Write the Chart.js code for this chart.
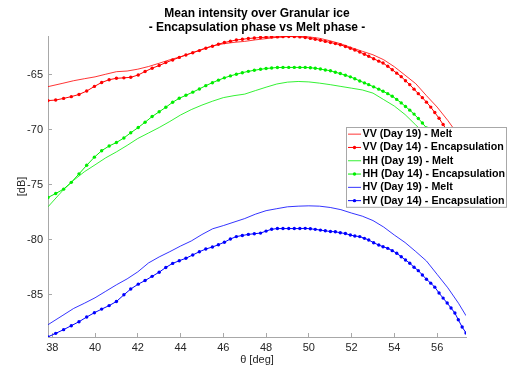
<!DOCTYPE html>
<html>
<head>
<meta charset="utf-8">
<script src="https://cdn.jsdelivr.net/npm/chart.js@4/dist/chart.umd.min.js"></script>
<style>
  html, body { margin: 0; padding: 0; background: #fff; }
  canvas { display: block; }
</style>
</head>
<body>
<canvas id="chart" width="511" height="367"></canvas>
<script>
// Incidence angles (deg) of the encapsulation samples (dotted curves)
const thetaEnc = [
  37.80, 38.16, 38.53, 38.89, 39.25, 39.61, 39.97, 40.31, 40.66, 41.00,
  41.35, 41.67, 42.02, 42.34, 42.67, 43.00, 43.31, 43.63, 43.94, 44.25,
  44.57, 44.88, 45.18, 45.49, 45.77, 46.05, 46.33, 46.61, 46.89, 47.17,
  47.45, 47.74, 48.00, 48.26, 48.53, 48.79, 49.06, 49.32, 49.58, 49.83,
  50.07, 50.30, 50.54, 50.77, 51.01, 51.24, 51.47, 51.71, 51.94, 52.15,
  52.38, 52.60, 52.80, 53.03, 53.27, 53.47, 53.69, 53.90, 54.11, 54.32,
  54.52, 54.72, 54.92, 55.12, 55.31, 55.50, 55.70, 55.89, 56.09, 56.28,
  56.47, 56.65, 56.83, 56.99, 57.17, 57.35
];

// Incidence angles (deg) (plain lines)
const thetaMelt = [
  37.8, 38.5, 39, 39.5, 40, 40.5, 41, 41.5, 42, 42.5,
  43, 43.5, 44, 44.5, 45, 45.5, 46, 46.5, 47, 47.5,
  48, 48.5, 49, 49.5, 50, 50.5, 51, 51.5, 52, 52.5,
  53, 53.5, 54, 54.5, 55, 55.5, 56, 56.5, 57, 57.35
];

// Mean intensity [dB]
const vvMelt = [
  -66.06, -65.75, -65.52, -65.34, -65.17, -64.93, -64.70, -64.64, -64.47, -64.23,
  -63.93, -63.61, -63.34, -63.01, -62.66, -62.34, -62.16, -62.03, -61.94, -61.80,
  -61.69, -61.57, -61.50, -61.46, -61.53, -61.66, -61.89, -62.16, -62.52, -62.84,
  -63.16, -63.61, -64.25, -65.02, -65.79, -66.88, -67.92, -69.14, -70.50, -71.50
];
const vvEnc = [
  -67.33, -67.28, -67.13, -66.97, -66.77, -66.46, -66.04, -65.68, -65.43, -65.30,
  -65.26, -65.21, -65.00, -64.68, -64.38, -64.14, -63.87, -63.63, -63.40, -63.18,
  -62.97, -62.78, -62.56, -62.38, -62.20, -62.04, -61.93, -61.81, -61.75, -61.68,
  -61.63, -61.59, -61.56, -61.54, -61.53, -61.51, -61.50, -61.51, -61.53, -61.58,
  -61.67, -61.75, -61.84, -61.94, -62.04, -62.14, -62.25, -62.40, -62.57, -62.73,
  -62.91, -63.11, -63.30, -63.52, -63.74, -63.91, -64.21, -64.52, -64.83, -65.15,
  -65.52, -65.88, -66.29, -66.70, -67.06, -67.47, -67.92, -68.42, -68.94, -69.51,
  -70.05, -70.64, -71.23, -71.86, -72.59, -73.31
];
const hhMelt = [
  -77.00, -75.49, -74.58, -73.81, -73.18, -72.54, -72.00, -71.41, -70.78, -70.28,
  -69.78, -69.23, -68.64, -68.15, -67.74, -67.38, -67.06, -66.88, -66.74, -66.42,
  -66.11, -65.82, -65.65, -65.59, -65.63, -65.74, -65.88, -66.04, -66.20, -66.36,
  -66.65, -67.24, -67.83, -68.60, -69.55, -70.50, -71.46, -72.41, -73.40, -74.13
];
const hhEnc = [
  -76.15, -75.79, -75.39, -74.77, -74.00, -73.22, -72.48, -71.89, -71.46, -71.15,
  -70.73, -70.26, -69.78, -69.30, -68.78, -68.35, -67.94, -67.48, -67.12, -66.85,
  -66.56, -66.27, -65.97, -65.70, -65.47, -65.26, -65.08, -64.93, -64.79, -64.67,
  -64.57, -64.48, -64.41, -64.36, -64.32, -64.31, -64.31, -64.31, -64.31, -64.31,
  -64.34, -64.38, -64.46, -64.54, -64.61, -64.75, -64.87, -65.02, -65.17, -65.34,
  -65.54, -65.72, -65.88, -66.08, -66.29, -66.48, -66.70, -66.93, -67.22, -67.54,
  -67.87, -68.20, -68.56, -68.96, -69.37, -69.82, -70.28, -70.78, -71.27, -71.82,
  -72.41, -72.99, -73.63, -74.27, -74.99, -75.76
];
const hvMelt = [
  -87.73, -86.87, -86.25, -85.78, -85.28, -84.69, -84.10, -83.56, -82.92, -82.11,
  -81.56, -81.08, -80.57, -80.11, -79.52, -79.00, -78.71, -78.39, -78.07, -77.67,
  -77.35, -77.17, -77.00, -76.94, -76.91, -76.94, -77.06, -77.26, -77.57, -77.85,
  -78.25, -78.84, -79.57, -80.25, -81.07, -81.93, -83.15, -84.37, -85.78, -86.91
];
const hvEnc = [
  -88.84, -88.52, -88.18, -87.82, -87.46, -87.03, -86.64, -86.31, -85.99, -85.62,
  -85.01, -84.48, -84.04, -83.71, -83.33, -82.95, -82.52, -82.15, -81.91, -81.68,
  -81.38, -81.09, -80.84, -80.66, -80.45, -80.22, -79.93, -79.71, -79.61, -79.51,
  -79.45, -79.39, -79.21, -79.04, -78.98, -78.98, -78.98, -78.98, -78.98, -78.96,
  -79.00, -79.05, -79.12, -79.18, -79.25, -79.27, -79.36, -79.43, -79.57, -79.66,
  -79.71, -79.87, -80.02, -80.27, -80.48, -80.63, -80.78, -80.99, -81.23, -81.54,
  -81.84, -82.13, -82.50, -82.81, -83.20, -83.59, -83.95, -84.31, -84.85, -85.31,
  -85.76, -86.21, -86.67, -87.28, -87.94, -88.48
];

const seriesLabels = [
  'VV (Day 19) - Melt', 'VV (Day 14) - Encapsulation',
  'HH (Day 19) - Melt', 'HH (Day 14) - Encapsulation',
  'HV (Day 19) - Melt', 'HV (Day 14) - Encapsulation'
];

const FONT = "'Liberation Sans', Arial, Helvetica, sans-serif";
const AXIS_GREY = '#a8a8a8';
const TEXT_GREY = '#262626';

const toPoints = (xs, ys) => xs.map((x, i) => ({ x, y: ys[i] }));

function meltSet(label, color, ys) {
  return {
    label, data: toPoints(thetaMelt, ys),
    borderColor: color, backgroundColor: color,
    borderWidth: 0.8, pointRadius: 0, tension: 0
  };
}

function encSet(label, color, ys) {
  return {
    label, data: toPoints(thetaEnc, ys),
    borderColor: color, backgroundColor: color,
    borderWidth: 1, pointRadius: 1.7, pointBorderWidth: 0,
    pointBackgroundColor: color, tension: 0
  };
}

// MATLAB-like legend: boxed, sitting inside the axes on the right
const boxLegend = {
  id: 'boxLegend',
  afterDraw(chart) {
    const { ctx } = chart;
    const left = 346, top = 127, width = 160, rowH = 13.3;
    const sets = chart.data.datasets;
    ctx.save();
    ctx.fillStyle = '#fff';
    ctx.fillRect(left, top, width, rowH * sets.length);
    ctx.strokeStyle = AXIS_GREY;
    ctx.lineWidth = 1;
    ctx.strokeRect(left + 0.5, top + 0.5, width, rowH * sets.length);
    ctx.font = `bold 10.7px ${FONT}`;
    ctx.textBaseline = 'middle';
    sets.forEach((ds, i) => {
      const cy = top + rowH * (i + 0.5) + 0.5;
      ctx.strokeStyle = ds.borderColor;
      ctx.lineWidth = ds.borderWidth;
      ctx.beginPath();
      ctx.moveTo(348, cy);
      ctx.lineTo(361, cy);
      ctx.stroke();
      if (ds.pointRadius > 0) {
        ctx.fillStyle = ds.borderColor;
        ctx.beginPath();
        ctx.arc(354.5, cy, ds.pointRadius, 0, Math.PI * 2);
        ctx.fill();
      }
      ctx.fillStyle = '#000';
      ctx.fillText(ds.label, 362.5, cy);
    });
    ctx.restore();
  }
};

new Chart(document.getElementById('chart'), {
  type: 'line',
  data: {
    datasets: [
      meltSet(seriesLabels[0], '#ff0000', vvMelt),
      encSet(seriesLabels[1], '#ff0000', vvEnc),
      meltSet(seriesLabels[2], '#00ee00', hhMelt),
      encSet(seriesLabels[3], '#00ee00', hhEnc),
      meltSet(seriesLabels[4], '#0000ff', hvMelt),
      encSet(seriesLabels[5], '#0000ff', hvEnc)
    ]
  },
  options: {
    responsive: false,
    animation: false,
    devicePixelRatio: 1,
    layout: { padding: { left: 0, right: 45, top: 0, bottom: 0 } },
    plugins: {
      legend: { display: false },
      tooltip: { enabled: false },
      title: {
        display: true,
        fullSize: false,
        text: ['Mean intensity over Granular ice', '- Encapsulation phase vs Melt phase -'],
        color: '#000',
        font: { family: FONT, size: 12, weight: 'bold', lineHeight: 1.2 },
        padding: { top: 6, bottom: 1.2 }
      }
    },
    scales: {
      x: {
        type: 'linear',
        min: 37.8,
        max: 57.35,
        afterFit: (s) => { s.height = 30; },
        border: { display: true, color: AXIS_GREY, width: 1 },
        grid: { drawOnChartArea: false, drawTicks: true, tickLength: -4, color: AXIS_GREY },
        ticks: {
          stepSize: 2, includeBounds: false, padding: 8,
          color: TEXT_GREY, font: { family: FONT, size: 11 },
          maxRotation: 0, autoSkip: false
        },
        title: {
          display: true, text: 'θ [deg]', color: TEXT_GREY,
          font: { family: FONT, size: 11 }, padding: { top: 0, bottom: 0 }
        }
      },
      y: {
        type: 'linear',
        min: -88.85,
        max: -61.45,
        afterFit: (s) => { s.width = 48; },
        border: { display: true, color: AXIS_GREY, width: 1 },
        grid: { drawOnChartArea: false, drawTicks: true, tickLength: -4, color: AXIS_GREY },
        ticks: {
          stepSize: 5, includeBounds: false, padding: 9,
          color: TEXT_GREY, font: { family: FONT, size: 11 }
        },
        title: {
          display: true, text: '[dB]', color: TEXT_GREY,
          font: { family: FONT, size: 11 }, padding: { top: 15, bottom: 0 }
        }
      }
    }
  },
  plugins: [boxLegend]
});
</script>
</body>
</html>
